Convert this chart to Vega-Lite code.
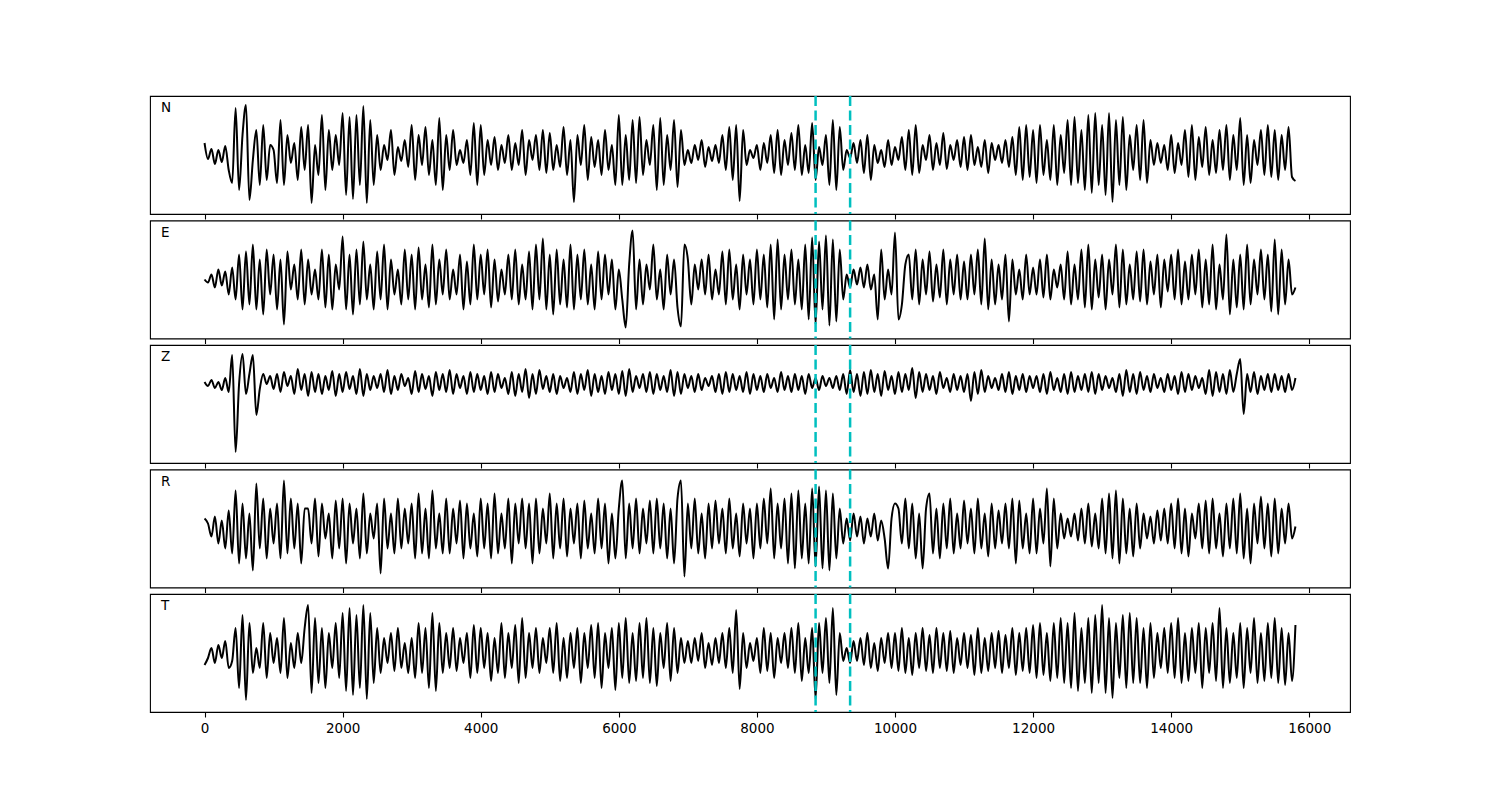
{
"$schema":"https://vega.github.io/schema/vega-lite/v6.json",
"background":"white",
"padding":{"left":149,"top":94,"right":0,"bottom":0},
"autosize":{"type":"pad"},
"config":{"view":{"stroke":"black","strokeWidth":1.1},"concat":{"spacing":6.5}},
"bounds":"flush",
"spacing":6.5,
"datasets":{
"marks":[{"t":8850},{"t":9350}],
"labels":[{"c":"N","lx":-630,"ly":47},{"c":"E","lx":-630,"ly":47},{"c":"Z","lx":-630,"ly":47},{"c":"R","lx":-630,"ly":47},{"c":"T","lx":-630,"ly":47}],
"trace":[
{"x":0,"N":12,"E":0,"Z":22,"R":10,"T":-12},
{"x":50,"N":-4,"E":-3,"Z":18,"R":5,"T":-5},
{"x":100,"N":6,"E":5,"Z":24,"R":-8,"T":5},
{"x":150,"N":-9,"E":-8,"Z":16,"R":12,"T":-10},
{"x":200,"N":5,"E":10,"Z":22,"R":-15,"T":8},
{"x":250,"N":-7,"E":-6,"Z":14,"R":8,"T":-5},
{"x":300,"N":9,"E":8,"Z":26,"R":-20,"T":12},
{"x":350,"N":-15,"E":-15,"Z":12,"R":18,"T":-15},
{"x":400,"N":-28,"E":12,"Z":49,"R":-25,"T":-8},
{"x":450,"N":47,"E":-20,"Z":-48,"R":38,"T":25},
{"x":500,"N":-35,"E":25,"Z":20,"R":-35,"T":-35},
{"x":550,"N":20,"E":-30,"Z":50,"R":25,"T":38},
{"x":600,"N":50,"E":28,"Z":10,"R":-30,"T":-47},
{"x":650,"N":-45,"E":-25,"Z":30,"R":15,"T":30},
{"x":700,"N":-5,"E":35,"Z":49,"R":-42,"T":-20},
{"x":750,"N":25,"E":-30,"Z":-11,"R":45,"T":5},
{"x":800,"N":-30,"E":20,"Z":15,"R":-20,"T":-15},
{"x":850,"N":30,"E":-35,"Z":30,"R":30,"T":30},
{"x":900,"N":-25,"E":30,"Z":20,"R":-30,"T":-25},
{"x":950,"N":10,"E":-15,"Z":28,"R":20,"T":20},
{"x":1000,"N":5,"E":25,"Z":15,"R":-15,"T":-10},
{"x":1050,"N":-28,"E":-30,"Z":30,"R":25,"T":15},
{"x":1100,"N":35,"E":20,"Z":12,"R":-30,"T":-20},
{"x":1150,"N":-30,"E":-45,"Z":32,"R":48,"T":35},
{"x":1200,"N":20,"E":28,"Z":18,"R":-25,"T":-25},
{"x":1250,"N":-8,"E":-10,"Z":28,"R":30,"T":10},
{"x":1300,"N":12,"E":15,"Z":10,"R":-20,"T":-15},
{"x":1350,"N":-25,"E":-20,"Z":35,"R":25,"T":20},
{"x":1400,"N":28,"E":30,"Z":14,"R":-35,"T":-10},
{"x":1450,"N":-15,"E":-25,"Z":30,"R":20,"T":25},
{"x":1500,"N":30,"E":20,"Z":8,"R":20,"T":48},
{"x":1550,"N":-48,"E":-15,"Z":32,"R":-15,"T":-40},
{"x":1600,"N":10,"E":10,"Z":12,"R":30,"T":35},
{"x":1650,"N":-20,"E":-20,"Z":30,"R":-28,"T":-30},
{"x":1700,"N":40,"E":30,"Z":10,"R":25,"T":25},
{"x":1750,"N":-35,"E":-28,"Z":28,"R":-10,"T":-35},
{"x":1800,"N":25,"E":25,"Z":14,"R":15,"T":20},
{"x":1850,"N":-15,"E":-30,"Z":33,"R":-30,"T":-15},
{"x":1900,"N":20,"E":15,"Z":8,"R":28,"T":30},
{"x":1950,"N":-10,"E":-10,"Z":30,"R":-20,"T":-25},
{"x":2000,"N":42,"E":43,"Z":12,"R":30,"T":40},
{"x":2050,"N":-40,"E":-30,"Z":32,"R":-35,"T":-38},
{"x":2100,"N":38,"E":25,"Z":15,"R":25,"T":45},
{"x":2150,"N":-44,"E":-35,"Z":28,"R":-15,"T":-42},
{"x":2200,"N":40,"E":30,"Z":10,"R":20,"T":38},
{"x":2250,"N":-30,"E":-25,"Z":35,"R":-30,"T":-35},
{"x":2300,"N":49,"E":38,"Z":8,"R":35,"T":48},
{"x":2350,"N":-48,"E":-20,"Z":30,"R":-25,"T":-46},
{"x":2400,"N":35,"E":15,"Z":14,"R":15,"T":40},
{"x":2450,"N":-30,"E":-30,"Z":28,"R":-10,"T":-30},
{"x":2500,"N":20,"E":28,"Z":16,"R":25,"T":25},
{"x":2550,"N":-15,"E":-20,"Z":30,"R":-45,"T":-20},
{"x":2600,"N":10,"E":35,"Z":12,"R":30,"T":15},
{"x":2650,"N":-5,"E":-30,"Z":34,"R":-20,"T":-10},
{"x":2700,"N":25,"E":20,"Z":10,"R":15,"T":20},
{"x":2750,"N":-20,"E":-15,"Z":28,"R":-25,"T":-18},
{"x":2800,"N":8,"E":10,"Z":14,"R":30,"T":25},
{"x":2850,"N":-6,"E":-25,"Z":30,"R":-20,"T":-15},
{"x":2900,"N":15,"E":30,"Z":18,"R":20,"T":10},
{"x":2950,"N":-12,"E":-20,"Z":26,"R":-15,"T":-20},
{"x":3000,"N":30,"E":25,"Z":10,"R":25,"T":15},
{"x":3050,"N":-25,"E":-30,"Z":33,"R":-30,"T":-25},
{"x":3100,"N":20,"E":32,"Z":12,"R":35,"T":30},
{"x":3150,"N":-10,"E":-20,"Z":30,"R":-25,"T":-20},
{"x":3200,"N":28,"E":15,"Z":15,"R":20,"T":25},
{"x":3250,"N":-20,"E":-28,"Z":28,"R":-30,"T":-35},
{"x":3300,"N":15,"E":35,"Z":8,"R":38,"T":40},
{"x":3350,"N":-30,"E":-25,"Z":32,"R":-20,"T":-38},
{"x":3400,"N":37,"E":20,"Z":14,"R":15,"T":30},
{"x":3450,"N":-35,"E":-15,"Z":30,"R":-25,"T":-20},
{"x":3500,"N":20,"E":30,"Z":12,"R":30,"T":20},
{"x":3550,"N":-15,"E":-20,"Z":34,"R":-25,"T":-15},
{"x":3600,"N":25,"E":10,"Z":10,"R":20,"T":25},
{"x":3650,"N":-10,"E":-15,"Z":30,"R":-15,"T":-18},
{"x":3700,"N":5,"E":25,"Z":16,"R":28,"T":15},
{"x":3750,"N":-8,"E":-30,"Z":28,"R":-30,"T":-10},
{"x":3800,"N":15,"E":18,"Z":10,"R":25,"T":20},
{"x":3850,"N":-20,"E":-25,"Z":32,"R":-20,"T":-25},
{"x":3900,"N":32,"E":35,"Z":12,"R":15,"T":28},
{"x":3950,"N":-30,"E":-20,"Z":30,"R":-28,"T":-20},
{"x":4000,"N":30,"E":25,"Z":14,"R":30,"T":25},
{"x":4050,"N":-20,"E":-15,"Z":28,"R":-20,"T":-15},
{"x":4100,"N":15,"E":30,"Z":10,"R":25,"T":20},
{"x":4150,"N":-10,"E":-28,"Z":32,"R":-30,"T":-28},
{"x":4200,"N":18,"E":20,"Z":12,"R":35,"T":15},
{"x":4250,"N":-15,"E":-22,"Z":30,"R":-25,"T":-20},
{"x":4300,"N":10,"E":10,"Z":16,"R":15,"T":30},
{"x":4350,"N":-8,"E":-15,"Z":26,"R":-20,"T":-25},
{"x":4400,"N":20,"E":25,"Z":10,"R":30,"T":20},
{"x":4450,"N":-15,"E":-20,"Z":32,"R":-35,"T":-15},
{"x":4500,"N":12,"E":30,"Z":8,"R":25,"T":28},
{"x":4550,"N":-10,"E":-25,"Z":30,"R":-15,"T":-30},
{"x":4600,"N":25,"E":15,"Z":12,"R":30,"T":35},
{"x":4650,"N":-20,"E":-20,"Z":35,"R":-20,"T":-25},
{"x":4700,"N":15,"E":28,"Z":6,"R":25,"T":20},
{"x":4750,"N":-5,"E":-30,"Z":30,"R":-35,"T":-15},
{"x":4800,"N":20,"E":35,"Z":10,"R":30,"T":25},
{"x":4850,"N":-15,"E":-20,"Z":34,"R":-25,"T":-20},
{"x":4900,"N":25,"E":41,"Z":15,"R":20,"T":15},
{"x":4950,"N":-18,"E":-30,"Z":28,"R":-15,"T":-10},
{"x":5000,"N":22,"E":25,"Z":12,"R":35,"T":25},
{"x":5050,"N":-15,"E":-35,"Z":30,"R":-30,"T":-20},
{"x":5100,"N":10,"E":30,"Z":10,"R":25,"T":30},
{"x":5150,"N":-12,"E":-25,"Z":28,"R":-20,"T":-28},
{"x":5200,"N":28,"E":20,"Z":16,"R":30,"T":15},
{"x":5250,"N":-20,"E":-28,"Z":26,"R":-28,"T":-25},
{"x":5300,"N":15,"E":35,"Z":12,"R":20,"T":20},
{"x":5350,"N":-47,"E":-30,"Z":32,"R":-15,"T":-15},
{"x":5400,"N":20,"E":25,"Z":10,"R":25,"T":25},
{"x":5450,"N":-10,"E":-20,"Z":30,"R":-30,"T":-30},
{"x":5500,"N":30,"E":30,"Z":14,"R":28,"T":20},
{"x":5550,"N":-25,"E":-25,"Z":34,"R":-20,"T":-15},
{"x":5600,"N":18,"E":15,"Z":8,"R":15,"T":28},
{"x":5650,"N":-12,"E":-30,"Z":30,"R":-25,"T":-25},
{"x":5700,"N":15,"E":28,"Z":12,"R":30,"T":30},
{"x":5750,"N":-20,"E":-20,"Z":28,"R":-20,"T":-35},
{"x":5800,"N":25,"E":25,"Z":10,"R":25,"T":20},
{"x":5850,"N":-15,"E":-15,"Z":32,"R":-35,"T":-15},
{"x":5900,"N":10,"E":20,"Z":14,"R":15,"T":25},
{"x":5950,"N":-30,"E":-30,"Z":30,"R":-30,"T":-37},
{"x":6000,"N":40,"E":10,"Z":10,"R":20,"T":30},
{"x":6050,"N":-30,"E":-20,"Z":33,"R":48,"T":-25},
{"x":6100,"N":20,"E":-48,"Z":8,"R":-30,"T":35},
{"x":6150,"N":-25,"E":15,"Z":35,"R":25,"T":-30},
{"x":6200,"N":35,"E":49,"Z":12,"R":-20,"T":20},
{"x":6250,"N":-28,"E":-30,"Z":28,"R":30,"T":-28},
{"x":6300,"N":38,"E":20,"Z":16,"R":-25,"T":30},
{"x":6350,"N":-20,"E":-25,"Z":30,"R":20,"T":-25},
{"x":6400,"N":15,"E":15,"Z":12,"R":-15,"T":35},
{"x":6450,"N":-10,"E":-10,"Z":32,"R":28,"T":-30},
{"x":6500,"N":30,"E":35,"Z":10,"R":-25,"T":25},
{"x":6550,"N":-35,"E":-20,"Z":30,"R":30,"T":-33},
{"x":6600,"N":37,"E":10,"Z":14,"R":-20,"T":20},
{"x":6650,"N":-30,"E":-30,"Z":28,"R":25,"T":-15},
{"x":6700,"N":20,"E":25,"Z":12,"R":-30,"T":30},
{"x":6750,"N":-15,"E":-15,"Z":34,"R":20,"T":-28},
{"x":6800,"N":35,"E":20,"Z":8,"R":-35,"T":25},
{"x":6850,"N":-32,"E":-28,"Z":32,"R":30,"T":-20},
{"x":6900,"N":25,"E":-47,"Z":10,"R":48,"T":15},
{"x":6950,"N":-10,"E":35,"Z":30,"R":-48,"T":-10},
{"x":7000,"N":5,"E":20,"Z":16,"R":25,"T":12},
{"x":7050,"N":-8,"E":-25,"Z":28,"R":-20,"T":-10},
{"x":7100,"N":10,"E":15,"Z":12,"R":30,"T":15},
{"x":7150,"N":-5,"E":-10,"Z":30,"R":-25,"T":-8},
{"x":7200,"N":15,"E":20,"Z":14,"R":15,"T":20},
{"x":7250,"N":-12,"E":-15,"Z":26,"R":-30,"T":-15},
{"x":7300,"N":8,"E":25,"Z":18,"R":25,"T":10},
{"x":7350,"N":-6,"E":-20,"Z":28,"R":-20,"T":-12},
{"x":7400,"N":10,"E":10,"Z":12,"R":28,"T":15},
{"x":7450,"N":-8,"E":-15,"Z":30,"R":-15,"T":-10},
{"x":7500,"N":20,"E":28,"Z":10,"R":20,"T":20},
{"x":7550,"N":-15,"E":-25,"Z":32,"R":-25,"T":-15},
{"x":7600,"N":28,"E":30,"Z":12,"R":30,"T":25},
{"x":7650,"N":-25,"E":-20,"Z":30,"R":-20,"T":-20},
{"x":7700,"N":30,"E":15,"Z":14,"R":15,"T":43},
{"x":7750,"N":-46,"E":-30,"Z":28,"R":-28,"T":-36},
{"x":7800,"N":25,"E":25,"Z":12,"R":25,"T":20},
{"x":7850,"N":-10,"E":-15,"Z":32,"R":-15,"T":-15},
{"x":7900,"N":5,"E":20,"Z":10,"R":20,"T":10},
{"x":7950,"N":-3,"E":-25,"Z":30,"R":-30,"T":-8},
{"x":8000,"N":10,"E":30,"Z":14,"R":25,"T":15},
{"x":8050,"N":-15,"E":-20,"Z":28,"R":-20,"T":-20},
{"x":8100,"N":12,"E":25,"Z":12,"R":30,"T":25},
{"x":8150,"N":-8,"E":-28,"Z":30,"R":-15,"T":-18},
{"x":8200,"N":20,"E":35,"Z":16,"R":40,"T":20},
{"x":8250,"N":-18,"E":-40,"Z":26,"R":-30,"T":-25},
{"x":8300,"N":25,"E":40,"Z":12,"R":25,"T":15},
{"x":8350,"N":-20,"E":-30,"Z":32,"R":-20,"T":-10},
{"x":8400,"N":15,"E":25,"Z":14,"R":30,"T":20},
{"x":8450,"N":-10,"E":-20,"Z":28,"R":-35,"T":-15},
{"x":8500,"N":22,"E":30,"Z":12,"R":35,"T":25},
{"x":8550,"N":-15,"E":-25,"Z":30,"R":-40,"T":-20},
{"x":8600,"N":30,"E":20,"Z":14,"R":38,"T":30},
{"x":8650,"N":-20,"E":-30,"Z":28,"R":-30,"T":-28},
{"x":8700,"N":10,"E":35,"Z":10,"R":25,"T":15},
{"x":8750,"N":-18,"E":-40,"Z":30,"R":-35,"T":-20},
{"x":8800,"N":32,"E":42,"Z":16,"R":40,"T":25},
{"x":8850,"N":-25,"E":-45,"Z":26,"R":-38,"T":-46},
{"x":8900,"N":8,"E":38,"Z":14,"R":42,"T":30},
{"x":8950,"N":-10,"E":-30,"Z":28,"R":-40,"T":-20},
{"x":9000,"N":20,"E":44,"Z":18,"R":38,"T":35},
{"x":9050,"N":-30,"E":-46,"Z":26,"R":-42,"T":-30},
{"x":9100,"N":35,"E":40,"Z":16,"R":35,"T":45},
{"x":9150,"N":-35,"E":-42,"Z":28,"R":-30,"T":-42},
{"x":9200,"N":28,"E":30,"Z":14,"R":20,"T":20},
{"x":9250,"N":-15,"E":-20,"Z":30,"R":-15,"T":-8},
{"x":9300,"N":5,"E":5,"Z":10,"R":10,"T":5},
{"x":9350,"N":-3,"E":-8,"Z":34,"R":-12,"T":-10},
{"x":9400,"N":12,"E":10,"Z":12,"R":15,"T":12},
{"x":9450,"N":-8,"E":-5,"Z":30,"R":-8,"T":-8},
{"x":9500,"N":15,"E":12,"Z":8,"R":12,"T":15},
{"x":9550,"N":-18,"E":-8,"Z":32,"R":-15,"T":-12},
{"x":9600,"N":20,"E":15,"Z":10,"R":10,"T":20},
{"x":9650,"N":-25,"E":-10,"Z":34,"R":-8,"T":-15},
{"x":9700,"N":10,"E":5,"Z":12,"R":15,"T":10},
{"x":9750,"N":-8,"E":-40,"Z":30,"R":-12,"T":-18},
{"x":9800,"N":5,"E":30,"Z":8,"R":8,"T":15},
{"x":9850,"N":-12,"E":-20,"Z":33,"R":-10,"T":-10},
{"x":9900,"N":15,"E":10,"Z":14,"R":-40,"T":20},
{"x":9950,"N":-10,"E":-15,"Z":28,"R":10,"T":-15},
{"x":10000,"N":8,"E":47,"Z":10,"R":25,"T":20},
{"x":10050,"N":-5,"E":-40,"Z":32,"R":20,"T":-18},
{"x":10100,"N":18,"E":-25,"Z":12,"R":-15,"T":25},
{"x":10150,"N":-15,"E":15,"Z":30,"R":30,"T":-20},
{"x":10200,"N":25,"E":25,"Z":14,"R":-20,"T":15},
{"x":10250,"N":-20,"E":-20,"Z":36,"R":25,"T":-22},
{"x":10300,"N":30,"E":30,"Z":6,"R":-30,"T":20},
{"x":10350,"N":-18,"E":-25,"Z":32,"R":15,"T":-15},
{"x":10400,"N":10,"E":20,"Z":12,"R":-40,"T":25},
{"x":10450,"N":-5,"E":-15,"Z":30,"R":20,"T":-18},
{"x":10500,"N":20,"E":28,"Z":14,"R":35,"T":18},
{"x":10550,"N":-15,"E":-22,"Z":28,"R":-25,"T":-20},
{"x":10600,"N":12,"E":15,"Z":10,"R":20,"T":25},
{"x":10650,"N":-10,"E":-18,"Z":32,"R":-30,"T":-15},
{"x":10700,"N":22,"E":30,"Z":16,"R":25,"T":20},
{"x":10750,"N":-14,"E":-25,"Z":26,"R":-20,"T":-18},
{"x":10800,"N":10,"E":20,"Z":12,"R":30,"T":22},
{"x":10850,"N":-5,"E":-15,"Z":30,"R":-25,"T":-20},
{"x":10900,"N":15,"E":25,"Z":14,"R":15,"T":15},
{"x":10950,"N":-12,"E":-20,"Z":28,"R":-20,"T":-12},
{"x":11000,"N":18,"E":18,"Z":12,"R":28,"T":20},
{"x":11050,"N":-15,"E":-20,"Z":30,"R":-15,"T":-15},
{"x":11100,"N":20,"E":25,"Z":3,"R":20,"T":18},
{"x":11150,"N":-10,"E":-15,"Z":32,"R":-25,"T":-22},
{"x":11200,"N":8,"E":30,"Z":10,"R":30,"T":25},
{"x":11250,"N":-12,"E":-25,"Z":34,"R":-20,"T":-20},
{"x":11300,"N":15,"E":41,"Z":12,"R":15,"T":15},
{"x":11350,"N":-18,"E":-30,"Z":28,"R":-28,"T":-18},
{"x":11400,"N":12,"E":20,"Z":16,"R":25,"T":20},
{"x":11450,"N":-5,"E":-25,"Z":26,"R":-20,"T":-15},
{"x":11500,"N":10,"E":15,"Z":14,"R":18,"T":22},
{"x":11550,"N":-8,"E":-20,"Z":30,"R":-15,"T":-20},
{"x":11600,"N":15,"E":25,"Z":12,"R":25,"T":18},
{"x":11650,"N":-12,"E":-42,"Z":32,"R":-20,"T":-15},
{"x":11700,"N":18,"E":20,"Z":10,"R":30,"T":25},
{"x":11750,"N":-20,"E":-15,"Z":28,"R":-35,"T":-22},
{"x":11800,"N":28,"E":10,"Z":14,"R":28,"T":20},
{"x":11850,"N":-25,"E":-20,"Z":30,"R":-20,"T":-18},
{"x":11900,"N":30,"E":25,"Z":12,"R":15,"T":25},
{"x":11950,"N":-22,"E":-15,"Z":28,"R":-25,"T":-20},
{"x":12000,"N":25,"E":12,"Z":16,"R":30,"T":28},
{"x":12050,"N":-28,"E":-15,"Z":28,"R":-25,"T":-25},
{"x":12100,"N":30,"E":20,"Z":12,"R":20,"T":30},
{"x":12150,"N":-20,"E":-18,"Z":30,"R":-15,"T":-22},
{"x":12200,"N":15,"E":25,"Z":10,"R":40,"T":20},
{"x":12250,"N":-25,"E":-20,"Z":32,"R":-38,"T":-28},
{"x":12300,"N":30,"E":10,"Z":14,"R":30,"T":30},
{"x":12350,"N":-30,"E":-8,"Z":26,"R":-20,"T":-25},
{"x":12400,"N":20,"E":15,"Z":12,"R":15,"T":35},
{"x":12450,"N":-18,"E":-20,"Z":30,"R":-10,"T":-30},
{"x":12500,"N":35,"E":28,"Z":10,"R":10,"T":30},
{"x":12550,"N":-30,"E":-25,"Z":32,"R":-8,"T":-35},
{"x":12600,"N":38,"E":15,"Z":12,"R":15,"T":40},
{"x":12650,"N":-28,"E":-20,"Z":28,"R":-12,"T":-38},
{"x":12700,"N":25,"E":30,"Z":14,"R":20,"T":25},
{"x":12750,"N":-35,"E":-28,"Z":30,"R":-15,"T":-30},
{"x":12800,"N":40,"E":35,"Z":12,"R":25,"T":35},
{"x":12850,"N":-38,"E":-30,"Z":32,"R":-18,"T":-40},
{"x":12900,"N":42,"E":20,"Z":10,"R":15,"T":38},
{"x":12950,"N":-30,"E":-18,"Z":30,"R":-20,"T":-30},
{"x":13000,"N":30,"E":25,"Z":14,"R":30,"T":48},
{"x":13050,"N":-40,"E":-30,"Z":28,"R":-25,"T":-40},
{"x":13100,"N":42,"E":20,"Z":16,"R":35,"T":35},
{"x":13150,"N":-47,"E":-15,"Z":26,"R":-30,"T":-45},
{"x":13200,"N":35,"E":35,"Z":12,"R":38,"T":30},
{"x":13250,"N":-30,"E":-28,"Z":30,"R":-35,"T":-25},
{"x":13300,"N":38,"E":30,"Z":8,"R":30,"T":38},
{"x":13350,"N":-35,"E":-25,"Z":34,"R":-25,"T":-35},
{"x":13400,"N":20,"E":15,"Z":12,"R":20,"T":40},
{"x":13450,"N":-15,"E":-20,"Z":30,"R":-28,"T":-30},
{"x":13500,"N":30,"E":28,"Z":10,"R":25,"T":35},
{"x":13550,"N":-25,"E":-22,"Z":32,"R":-20,"T":-30},
{"x":13600,"N":35,"E":30,"Z":14,"R":15,"T":25},
{"x":13650,"N":-28,"E":-25,"Z":28,"R":-10,"T":-35},
{"x":13700,"N":15,"E":18,"Z":12,"R":12,"T":30},
{"x":13750,"N":-10,"E":-15,"Z":30,"R":-15,"T":-25},
{"x":13800,"N":12,"E":25,"Z":16,"R":18,"T":20},
{"x":13850,"N":-8,"E":-28,"Z":26,"R":-12,"T":-15},
{"x":13900,"N":10,"E":20,"Z":12,"R":20,"T":25},
{"x":13950,"N":-15,"E":-12,"Z":30,"R":-15,"T":-20},
{"x":14000,"N":20,"E":25,"Z":14,"R":25,"T":30},
{"x":14050,"N":-18,"E":-20,"Z":28,"R":-20,"T":-25},
{"x":14100,"N":12,"E":30,"Z":10,"R":30,"T":35},
{"x":14150,"N":-10,"E":-25,"Z":32,"R":-25,"T":-30},
{"x":14200,"N":25,"E":18,"Z":12,"R":20,"T":20},
{"x":14250,"N":-22,"E":-20,"Z":30,"R":-28,"T":-28},
{"x":14300,"N":30,"E":25,"Z":14,"R":15,"T":25},
{"x":14350,"N":-25,"E":-15,"Z":28,"R":-10,"T":-20},
{"x":14400,"N":18,"E":30,"Z":16,"R":25,"T":30},
{"x":14450,"N":-12,"E":-28,"Z":26,"R":-20,"T":-35},
{"x":14500,"N":28,"E":20,"Z":10,"R":28,"T":25},
{"x":14550,"N":-20,"E":-25,"Z":34,"R":-25,"T":-20},
{"x":14600,"N":15,"E":35,"Z":8,"R":30,"T":30},
{"x":14650,"N":-18,"E":-30,"Z":32,"R":-20,"T":-28},
{"x":14700,"N":25,"E":15,"Z":12,"R":15,"T":45},
{"x":14750,"N":-15,"E":-20,"Z":30,"R":-28,"T":-35},
{"x":14800,"N":30,"E":45,"Z":10,"R":25,"T":25},
{"x":14850,"N":-25,"E":-35,"Z":34,"R":-20,"T":-30},
{"x":14900,"N":20,"E":20,"Z":12,"R":30,"T":20},
{"x":14950,"N":-15,"E":-28,"Z":30,"R":-25,"T":-25},
{"x":15000,"N":37,"E":25,"Z":45,"R":35,"T":30},
{"x":15050,"N":-30,"E":-30,"Z":-10,"R":-30,"T":-35},
{"x":15100,"N":20,"E":35,"Z":30,"R":20,"T":25},
{"x":15150,"N":-28,"E":-25,"Z":12,"R":-35,"T":-20},
{"x":15200,"N":15,"E":20,"Z":32,"R":25,"T":35},
{"x":15250,"N":-10,"E":-15,"Z":10,"R":-15,"T":-30},
{"x":15300,"N":25,"E":30,"Z":28,"R":32,"T":20},
{"x":15350,"N":-20,"E":-20,"Z":14,"R":-20,"T":-28},
{"x":15400,"N":30,"E":25,"Z":30,"R":25,"T":30},
{"x":15450,"N":-22,"E":-32,"Z":12,"R":-28,"T":-25},
{"x":15500,"N":25,"E":40,"Z":30,"R":30,"T":35},
{"x":15550,"N":-25,"E":-35,"Z":14,"R":-25,"T":-30},
{"x":15600,"N":20,"E":30,"Z":28,"R":20,"T":25},
{"x":15650,"N":-15,"E":-25,"Z":12,"R":-15,"T":-32},
{"x":15700,"N":28,"E":20,"Z":30,"R":25,"T":20},
{"x":15750,"N":-22,"E":-15,"Z":14,"R":-10,"T":-28},
{"x":15800,"N":-26,"E":-8,"Z":26,"R":2,"T":28}
]},
"vconcat":[
{"width":1200,"height":118,"layer":[
{"data":{"name":"trace"},"mark":{"type":"line","color":"black","strokeWidth":2,"interpolate":"monotone"},"encoding":{"x":{"field":"x","type":"quantitative","scale":{"domain":[-790,16590],"nice":false,"zero":false},"axis":{"values":[0,2000,4000,6000,8000,10000,12000,14000,16000],"labels":false,"domain":false,"grid":false,"title":null,"tickSize":5,"tickWidth":1.1,"tickColor":"black"}},"y":{"field":"N","type":"quantitative","scale":{"domain":[-59,59],"nice":false,"zero":false},"axis":null}}},
{"data":{"name":"marks"},"mark":{"type":"rule","color":"#00bfbf","strokeWidth":2.5,"strokeDash":[10,4.5]},"encoding":{"x":{"field":"t","type":"quantitative"}}},
{"data":{"name":"labels"},"transform":[{"filter":"datum.c==='N'"}],"mark":{"type":"text","align":"left","baseline":"middle","fontSize":13.5,"font":"DejaVu Sans","color":"black"},"encoding":{"x":{"field":"lx","type":"quantitative"},"y":{"field":"ly","type":"quantitative"},"text":{"field":"c"}}}
]},
{"width":1200,"height":118,"layer":[
{"data":{"name":"trace"},"mark":{"type":"line","color":"black","strokeWidth":2,"interpolate":"monotone"},"encoding":{"x":{"field":"x","type":"quantitative","scale":{"domain":[-790,16590],"nice":false,"zero":false},"axis":{"values":[0,2000,4000,6000,8000,10000,12000,14000,16000],"labels":false,"domain":false,"grid":false,"title":null,"tickSize":5,"tickWidth":1.1,"tickColor":"black"}},"y":{"field":"E","type":"quantitative","scale":{"domain":[-59,59],"nice":false,"zero":false},"axis":null}}},
{"data":{"name":"marks"},"mark":{"type":"rule","color":"#00bfbf","strokeWidth":2.5,"strokeDash":[10,4.5]},"encoding":{"x":{"field":"t","type":"quantitative"}}},
{"data":{"name":"labels"},"transform":[{"filter":"datum.c==='E'"}],"mark":{"type":"text","align":"left","baseline":"middle","fontSize":13.5,"font":"DejaVu Sans","color":"black"},"encoding":{"x":{"field":"lx","type":"quantitative"},"y":{"field":"ly","type":"quantitative"},"text":{"field":"c"}}}
]},
{"width":1200,"height":118,"layer":[
{"data":{"name":"trace"},"mark":{"type":"line","color":"black","strokeWidth":2,"interpolate":"monotone"},"encoding":{"x":{"field":"x","type":"quantitative","scale":{"domain":[-790,16590],"nice":false,"zero":false},"axis":{"values":[0,2000,4000,6000,8000,10000,12000,14000,16000],"labels":false,"domain":false,"grid":false,"title":null,"tickSize":5,"tickWidth":1.1,"tickColor":"black"}},"y":{"field":"Z","type":"quantitative","scale":{"domain":[-59,59],"nice":false,"zero":false},"axis":null}}},
{"data":{"name":"marks"},"mark":{"type":"rule","color":"#00bfbf","strokeWidth":2.5,"strokeDash":[10,4.5]},"encoding":{"x":{"field":"t","type":"quantitative"}}},
{"data":{"name":"labels"},"transform":[{"filter":"datum.c==='Z'"}],"mark":{"type":"text","align":"left","baseline":"middle","fontSize":13.5,"font":"DejaVu Sans","color":"black"},"encoding":{"x":{"field":"lx","type":"quantitative"},"y":{"field":"ly","type":"quantitative"},"text":{"field":"c"}}}
]},
{"width":1200,"height":118,"layer":[
{"data":{"name":"trace"},"mark":{"type":"line","color":"black","strokeWidth":2,"interpolate":"monotone"},"encoding":{"x":{"field":"x","type":"quantitative","scale":{"domain":[-790,16590],"nice":false,"zero":false},"axis":{"values":[0,2000,4000,6000,8000,10000,12000,14000,16000],"labels":false,"domain":false,"grid":false,"title":null,"tickSize":5,"tickWidth":1.1,"tickColor":"black"}},"y":{"field":"R","type":"quantitative","scale":{"domain":[-59,59],"nice":false,"zero":false},"axis":null}}},
{"data":{"name":"marks"},"mark":{"type":"rule","color":"#00bfbf","strokeWidth":2.5,"strokeDash":[10,4.5]},"encoding":{"x":{"field":"t","type":"quantitative"}}},
{"data":{"name":"labels"},"transform":[{"filter":"datum.c==='R'"}],"mark":{"type":"text","align":"left","baseline":"middle","fontSize":13.5,"font":"DejaVu Sans","color":"black"},"encoding":{"x":{"field":"lx","type":"quantitative"},"y":{"field":"ly","type":"quantitative"},"text":{"field":"c"}}}
]},
{"width":1200,"height":118,"layer":[
{"data":{"name":"trace"},"mark":{"type":"line","color":"black","strokeWidth":2,"interpolate":"monotone"},"encoding":{"x":{"field":"x","type":"quantitative","scale":{"domain":[-790,16590],"nice":false,"zero":false},"axis":{"values":[0,2000,4000,6000,8000,10000,12000,14000,16000],"format":"d","labels":true,"labelFont":"DejaVu Sans","labelFontSize":13.5,"labelColor":"black","labelPadding":4,"domain":false,"grid":false,"title":null,"tickSize":5,"tickWidth":1.1,"tickColor":"black"}},"y":{"field":"T","type":"quantitative","scale":{"domain":[-59,59],"nice":false,"zero":false},"axis":null}}},
{"data":{"name":"marks"},"mark":{"type":"rule","color":"#00bfbf","strokeWidth":2.5,"strokeDash":[10,4.5]},"encoding":{"x":{"field":"t","type":"quantitative"}}},
{"data":{"name":"labels"},"transform":[{"filter":"datum.c==='T'"}],"mark":{"type":"text","align":"left","baseline":"middle","fontSize":13.5,"font":"DejaVu Sans","color":"black"},"encoding":{"x":{"field":"lx","type":"quantitative"},"y":{"field":"ly","type":"quantitative"},"text":{"field":"c"}}}
]}
]
}
